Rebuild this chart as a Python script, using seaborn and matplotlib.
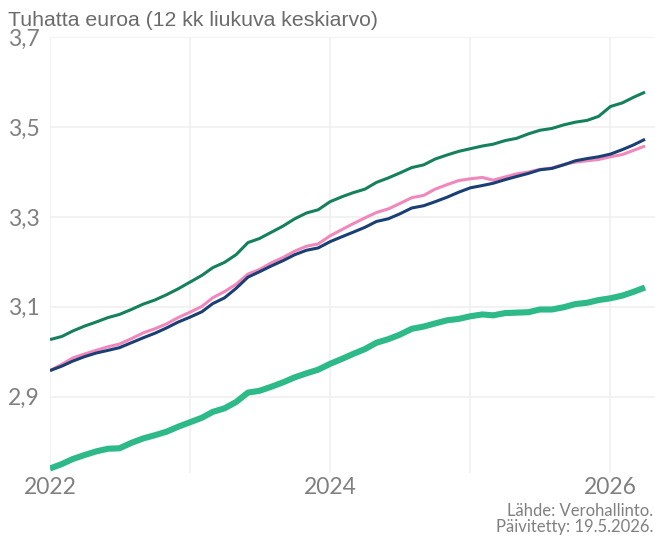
import matplotlib
matplotlib.use("Agg")
import matplotlib.pyplot as plt
import matplotlib.dates as mdates
import matplotlib.ticker as mticker
import pandas as pd
import seaborn as sns

# Monthly observations, Jan 2022 - Apr 2026 (thousand euros, 12-month moving average)
months = pd.date_range("2022-01-01", "2026-04-01", freq="MS")

dark_green = [3.027, 3.034, 3.046, 3.057, 3.066, 3.076, 3.083, 3.094, 3.106, 3.115,
              3.127, 3.140, 3.155, 3.170, 3.187, 3.199, 3.216, 3.243, 3.252, 3.266,
              3.280, 3.296, 3.309, 3.316, 3.334, 3.345, 3.354, 3.362, 3.377, 3.387,
              3.398, 3.410, 3.416, 3.429, 3.438, 3.446, 3.452, 3.458, 3.462, 3.470,
              3.475, 3.485, 3.493, 3.497, 3.505, 3.511, 3.515, 3.524, 3.546, 3.554,
              3.566, 3.578]

pink = [2.958, 2.972, 2.986, 2.995, 3.003, 3.011, 3.017, 3.029, 3.042, 3.051,
        3.062, 3.076, 3.088, 3.101, 3.120, 3.134, 3.150, 3.173, 3.183, 3.198,
        3.210, 3.224, 3.235, 3.240, 3.258, 3.272, 3.285, 3.298, 3.310, 3.318,
        3.330, 3.343, 3.348, 3.362, 3.372, 3.381, 3.385, 3.388, 3.382, 3.389,
        3.396, 3.400, 3.406, 3.409, 3.417, 3.422, 3.425, 3.428, 3.434, 3.439,
        3.448, 3.458]

navy = [2.958, 2.968, 2.979, 2.989, 2.997, 3.003, 3.009, 3.020, 3.031, 3.041,
        3.053, 3.066, 3.077, 3.089, 3.107, 3.120, 3.141, 3.166, 3.178, 3.191,
        3.203, 3.216, 3.226, 3.231, 3.245, 3.256, 3.266, 3.277, 3.290, 3.296,
        3.307, 3.320, 3.325, 3.334, 3.344, 3.355, 3.365, 3.370, 3.375, 3.383,
        3.390, 3.397, 3.405, 3.408, 3.416, 3.425, 3.430, 3.434, 3.440, 3.450,
        3.460, 3.473]

green = [2.740, 2.750, 2.761, 2.770, 2.778, 2.784, 2.785, 2.797, 2.807, 2.814,
         2.822, 2.833, 2.843, 2.853, 2.866, 2.874, 2.888, 2.909, 2.913, 2.922,
         2.932, 2.943, 2.952, 2.960, 2.973, 2.984, 2.995, 3.006, 3.020, 3.028,
         3.038, 3.051, 3.056, 3.063, 3.070, 3.073, 3.079, 3.083, 3.081, 3.086,
         3.087, 3.088, 3.094, 3.094, 3.099, 3.106, 3.109, 3.115, 3.119, 3.125,
         3.133, 3.143]

y_ticks = [2.9, 3.1, 3.3, 3.5, 3.7]
y_tick_labels = ["2,9", "3,1", "3,3", "3,5", "3,7"]
x_grid_years = [2022, 2023, 2024, 2025, 2026]
x_tick_labels = ["2022", "", "2024", "", "2026"]

title = "Tuhatta euroa (12 kk liukuva keskiarvo)"
source = "Lähde: Verohallinto."
updated = "Päivitetty: 19.5.2026."

sns.set_theme(style="white")
plt.rcParams["font.family"] = ["Lato", "DejaVu Sans"]

GRID = "#efefef"
TEXT = "#808080"

df = pd.DataFrame({"kuukausi": months, "dark_green": dark_green, "pink": pink,
                   "navy": navy, "green": green})

fig = plt.figure(figsize=(6.55, 5.35), dpi=100)
ax = fig.add_axes([50 / 655, 62 / 535, 605 / 655, 435.7 / 535])

series = [
    ("green", "#2dba88", 4.4),
    ("dark_green", "#15805c", 2.2),
    ("pink", "#f088bb", 2.2),
    ("navy", "#1a3f75", 2.2),
]
for col, color, lw in series:
    sns.lineplot(data=df, x="kuukausi", y=col, color=color, linewidth=lw, ax=ax,
                 solid_joinstyle="round", solid_capstyle="butt")

ax.set_xlim(pd.Timestamp("2022-01-01"), pd.Timestamp("2026-04-27"))
ax.set_ylim(2.730, 3.700)

ax.xaxis.set_major_locator(mticker.FixedLocator(
    [mdates.date2num(pd.Timestamp(f"{y}-01-01")) for y in x_grid_years]))
ax.xaxis.set_major_formatter(mticker.FixedFormatter(x_tick_labels))
ax.set_yticks(y_ticks)
ax.set_yticklabels(y_tick_labels)

ax.grid(True, color=GRID, linewidth=1.1)
ax.set_axisbelow(True)
for s in ax.spines.values():
    s.set_visible(False)

ax.set_xlabel("")
ax.set_ylabel("")
ax.tick_params(axis="x", length=0, pad=3, labelsize=16.5, labelcolor=TEXT)
ax.tick_params(axis="y", length=4.3, width=1.1, color=GRID, pad=26,
               labelsize=16.5, labelcolor=TEXT)
for lab in ax.get_yticklabels():
    lab.set_horizontalalignment("left")
for lab in ax.get_xticklabels() + ax.get_yticklabels():
    lab.set_fontweight("normal")

fig.text(8 / 655, 1 - 26 / 535, title, ha="left", va="baseline", fontsize=15.3,
         color="#6b6b6b", family=["Liberation Sans", "DejaVu Sans"])
fig.text(653 / 655, 1 - 516 / 535, source, ha="right", va="baseline",
         fontsize=12, color=TEXT, fontweight="normal")
fig.text(653 / 655, 1 - 532 / 535, updated, ha="right", va="baseline",
         fontsize=12, color=TEXT, fontweight="normal")

fig.savefig("out.png", dpi=100)
